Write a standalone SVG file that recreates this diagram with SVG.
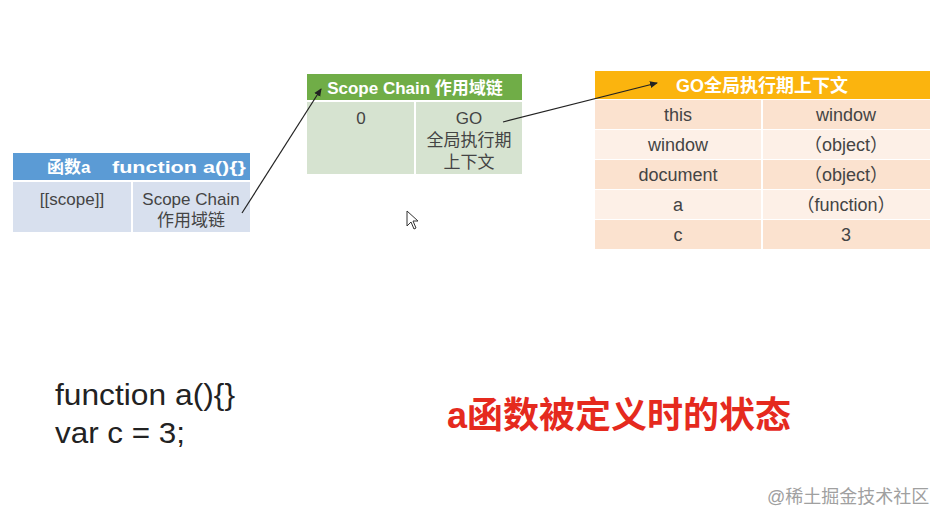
<svg xmlns="http://www.w3.org/2000/svg" width="944" height="523" viewBox="0 0 944 523">
<style>
text{font-family:"Liberation Sans","Noto Sans CJK SC",sans-serif;}
.hd{fill:#fff;font-weight:bold;font-size:17px;text-anchor:middle;}
.c{fill:#444;font-size:17px;text-anchor:middle;}
.g{font-size:18px;}
.code{fill:#222;font-size:30px;}
</style>
<defs>
<marker id="ah" markerWidth="8" markerHeight="8" refX="7" refY="4" orient="auto" markerUnits="userSpaceOnUse">
<path d="M0,0.5 L8,4 L0,7.5 Z" fill="#222"/>
</marker>
</defs>
<rect width="944" height="523" fill="#fff"/>

<g id="fnA">
<rect x="13" y="153" width="237" height="27" fill="#5B9BD5"/>
<text class="hd" x="47" y="173" style="text-anchor:start"><tspan x="47">函数a</tspan><tspan x="112" textLength="134" lengthAdjust="spacingAndGlyphs">function a(){}</tspan></text>
<rect x="13" y="182" width="118" height="50" fill="#D8E0EE"/>
<rect x="133" y="182" width="117" height="50" fill="#D8E0EE"/>
<text class="c" x="72" y="205">[[scope]]</text>
<text class="c" x="191" y="205">Scope Chain</text>
<text class="c" x="191" y="226">作用域链</text>
</g>

<g id="scopeChain">
<rect x="307" y="74" width="215" height="26" fill="#70AD47"/>
<text class="hd" x="415" y="94">Scope Chain 作用域链</text>
<rect x="307" y="102" width="107" height="72" fill="#D6E3D0"/>
<rect x="416" y="102" width="106" height="72" fill="#D6E3D0"/>
<text class="c" x="361" y="124">0</text>
<text class="c" x="469" y="124">GO</text>
<text class="c" x="469" y="146">全局执行期</text>
<text class="c" x="469" y="168">上下文</text>
</g>

<g id="GO">
<rect x="595" y="71" width="335" height="28" fill="#FBB40E"/>
<text class="hd" x="762" y="92" style="font-size:18px">GO全局执行期上下文</text>
<rect x="595" y="100" width="166" height="29" fill="#FBE2CF"/>
<rect x="763" y="100" width="167" height="29" fill="#FBE2CF"/>
<rect x="595" y="130" width="166" height="29" fill="#FDF0E7"/>
<rect x="763" y="130" width="167" height="29" fill="#FDF0E7"/>
<rect x="595" y="160" width="166" height="29" fill="#FBE2CF"/>
<rect x="763" y="160" width="167" height="29" fill="#FBE2CF"/>
<rect x="595" y="190" width="166" height="29" fill="#FDF0E7"/>
<rect x="763" y="190" width="167" height="29" fill="#FDF0E7"/>
<rect x="595" y="220" width="166" height="29" fill="#FBE2CF"/>
<rect x="763" y="220" width="167" height="29" fill="#FBE2CF"/>
<text class="c g" x="678" y="121">this</text>
<text class="c g" x="846" y="121">window</text>
<text class="c g" x="678" y="151">window</text>
<text class="c g" x="846" y="151">（object）</text>
<text class="c g" x="678" y="181">document</text>
<text class="c g" x="846" y="181">（object）</text>
<text class="c g" x="678" y="211">a</text>
<text class="c g" x="846" y="211">（function）</text>
<text class="c g" x="678" y="241">c</text>
<text class="c g" x="846" y="241">3</text>
</g>

<g id="connectors" stroke="#222" stroke-width="1.2" fill="none">
<line x1="242" y1="213" x2="321" y2="89" marker-end="url(#ah)"/>
<line x1="503" y1="122" x2="657" y2="83" marker-end="url(#ah)"/>
</g>

<path d="M407,211 L407,226 L411,222 L414,229 L416,228 L413,221 L418,221 Z" fill="#fff" stroke="#333" stroke-width="1"/>

<text class="code" x="55" y="405" textLength="180" lengthAdjust="spacingAndGlyphs">function a(){}</text>
<text class="code" x="55" y="443" textLength="130" lengthAdjust="spacingAndGlyphs">var c = 3;</text>

<text x="447" y="428" font-size="36" font-weight="bold" fill="#E52A1E">a函数被定义时的状态</text>

<text x="767" y="503" font-size="18" fill="#A0A0A0">@稀土掘金技术社区</text>
</svg>
